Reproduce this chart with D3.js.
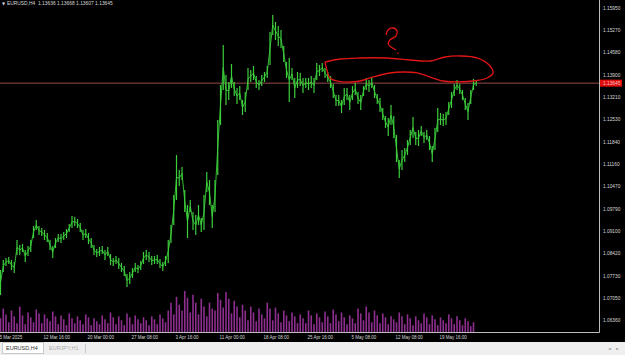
<!DOCTYPE html>
<html><head><meta charset="utf-8">
<script src="https://cdn.jsdelivr.net/npm/d3@7"></script>
<style>html,body{margin:0;padding:0;background:#000;overflow:hidden}svg{display:block}</style>
</head><body>
<svg id="c" width="625" height="355"></svg>
<script>
// ---- data (EURUSD, H4; one entry = 8h) ----
const highs = [1.07914,1.08221,1.08283,1.08314,1.08221,1.08160,1.08834,1.08681,1.08711,1.08528,
1.08650,1.08834,1.09264,1.09448,1.09264,1.09203,1.09141,1.09049,1.08834,1.08650,
1.08895,1.09018,1.09018,1.09080,1.09172,1.09325,1.09571,1.09540,1.09479,1.09356,
1.09141,1.09172,1.09049,1.08895,1.08681,1.08558,1.08620,1.08650,1.08528,1.08620,
1.08405,1.08283,1.08344,1.08283,1.08129,1.08037,1.07791,1.07853,1.07976,1.08129,
1.08068,1.08190,1.08467,1.08528,1.08467,1.08344,1.08344,1.08375,1.08252,1.08160,
1.08344,1.08834,1.09295,1.10214,1.11441,1.10981,1.11073,1.10368,1.09908,1.10061,
1.09693,1.09601,1.09908,1.09509,1.10214,1.10920,1.10674,1.09908,1.10674,1.12515,
1.13588,1.14815,1.13895,1.13680,1.14232,1.13680,1.13496,1.13557,1.13128,1.13374,
1.14109,1.14048,1.14171,1.13864,1.13741,1.13895,1.13987,1.14171,1.15214,1.15735,
1.15520,1.15398,1.15275,1.14784,1.14294,1.14416,1.14109,1.13803,1.13987,1.13956,
1.13803,1.13803,1.13803,1.13864,1.13803,1.14263,1.14201,1.14263,1.14109,1.13987,
1.13864,1.13619,1.13282,1.13282,1.13128,1.13496,1.13496,1.13282,1.13557,1.13649,
1.13374,1.13282,1.13557,1.13803,1.13741,1.13833,1.13588,1.13312,1.13190,1.12883,
1.12637,1.12576,1.12975,1.12637,1.12055,1.11288,1.11595,1.11656,1.11901,1.12208,
1.12607,1.12147,1.12208,1.12331,1.12147,1.12208,1.12024,1.11717,1.12269,1.12883,
1.12729,1.12699,1.12760,1.13067,1.13374,1.13619,1.13741,1.13619,1.13435,1.13190,
1.13036,1.13435,1.13772,1.13741];
const lows = [1.07148,1.07853,1.08037,1.08098,1.07914,1.07822,1.08375,1.08375,1.08467,1.08160,
1.08344,1.08467,1.08895,1.09141,1.08988,1.08957,1.08834,1.08773,1.08528,1.08283,
1.08589,1.08773,1.08742,1.08834,1.08895,1.09080,1.09203,1.09264,1.09203,1.09080,
1.08834,1.08895,1.08711,1.08589,1.08375,1.08314,1.08344,1.08405,1.08221,1.08344,
1.08068,1.08037,1.08098,1.07945,1.07853,1.07730,1.07392,1.07485,1.07669,1.07853,
1.07822,1.07914,1.08098,1.08221,1.08160,1.08068,1.08098,1.08098,1.07976,1.07884,
1.08037,1.08129,1.08742,1.09295,1.10061,1.10490,1.10674,1.09693,1.08895,1.09693,
1.09141,1.08988,1.09295,1.09080,1.09141,1.10306,1.09908,1.09203,1.09693,1.10828,
1.12361,1.13435,1.12975,1.13128,1.13496,1.13251,1.13005,1.13128,1.12668,1.12760,
1.13435,1.13680,1.13741,1.13496,1.13435,1.13557,1.13680,1.13803,1.14201,1.15122,
1.14968,1.14784,1.14723,1.14294,1.13803,1.13067,1.13741,1.13190,1.13496,1.13557,
1.13343,1.13496,1.13435,1.13496,1.13343,1.13741,1.13864,1.13987,1.13803,1.13680,
1.13496,1.13190,1.12944,1.12944,1.12729,1.12975,1.13128,1.12821,1.13128,1.13282,
1.13005,1.12821,1.13251,1.13435,1.13374,1.13496,1.13190,1.13005,1.12760,1.12515,
1.12269,1.12024,1.12361,1.11962,1.11227,1.10735,1.10981,1.11227,1.11441,1.11748,
1.11962,1.11748,1.11718,1.12024,1.11809,1.11901,1.11595,1.11227,1.11595,1.12147,
1.12361,1.12331,1.12361,1.12668,1.12883,1.13251,1.13435,1.13312,1.13128,1.12821,
1.12515,1.13005,1.13435,1.13557];
const volumes = [14,24,18,10,22,16,9,26,17,8,20,15,10,23,19,9,18,14,11,21,16,
8,17,13,7,19,14,9,16,12,8,18,15,7,14,11,8,17,13,9,20,15,
8,16,12,7,19,15,8,17,13,9,15,12,7,16,13,8,18,14,10,22,
30,18,36,28,22,42,35,20,38,30,18,34,26,16,30,24,22,40,33,25,41,34,19,32,26,15,28,
22,12,26,20,11,24,18,14,30,24,12,25,19,10,22,17,11,20,16,9,
18,14,9,22,17,8,19,15,10,21,16,9,23,18,11,20,15,8,17,14,9,24,19,12,26,20,10,22,17,9,19,15,8,16,13,10,
20,16,8,18,14,7,16,12,9,19,15,8,17,13,7,15,12,9,18,14,8,16,12,7,14,11,6,10];
const priceTicks = [1.15950,1.15270,1.14580,1.13900,1.13210,1.12530,1.11840,1.11160,1.10470,1.09790,1.09100,1.08420,1.07730,1.07050,1.06360];
const timeTickIdx = [0,16,32,48,64,80,96,112,128,144,160];
const timeTickLabels = ["5 Mar 2025","12 Mar 16:00","20 Mar 00:00","27 Mar 08:00","3 Apr 16:00","11 Apr 00:00","18 Apr 08:00","25 Apr 16:00","5 May 08:00","12 May 08:00","19 May 16:00"];
const lastPrice = 1.13645;
const header = "EURUSD,H4  1.13636 1.13668 1.13607 1.13645";
// hand-drawn annotation, in (bar index, price)
const loopIdx = [118.0,123.5,130.7,140.5,148.9,156.2,161.6,167.1,173.3,178.0,179.1,176.9,171.8,160.9,157.3,151.5,146.4,141.6,135.5,130.7,127.1,122.4,119.8,118.7,118.0];
const loopPrice = [1.14294,1.14386,1.14417,1.14417,1.14355,1.14325,1.14447,1.14478,1.14417,1.14171,1.13957,1.13803,1.13711,1.13711,1.13803,1.13957,1.13987,1.13957,1.13834,1.13711,1.13680,1.13711,1.13803,1.14049,1.14294];
const qIdx = [140.2,140.9,142.7,144.2,143.8,141.6,141.0,142.0,143.8];
const qPrice = [1.15122,1.15275,1.15337,1.15245,1.15091,1.14969,1.14846,1.14754,1.14662];
const qDot = [144.5,1.14560];

// ---- scales ----
const svg = d3.select("#c");
const W = 625, H = 355, axisX = 599, axisY = 332;
const x = d3.scaleLinear().domain([0, highs.length - 1]).range([0.5, 476.25]);
const y = d3.scaleLinear().domain([1.06360, 1.15950]).range([320.7, 8]);
const v = d3.scaleLinear().domain([0, 45]).range([axisY, axisY - 44]);
const font = "'Liberation Sans', Arial, sans-serif";
const green = "#3ccf3c";

svg.append("rect").attr("width", W).attr("height", H).attr("fill", "#000");

// volumes
svg.append("g").selectAll("line").data(volumes).join("line")
  .attr("x1", (d,i)=>x(i)).attr("x2", (d,i)=>x(i))
  .attr("y1", axisY).attr("y2", d=>v(d))
  .attr("stroke", "#8e2e8e").attr("stroke-width", 1.6);

// current price line
svg.append("line").attr("x1", 0).attr("x2", axisX).attr("y1", y(lastPrice)).attr("y2", y(lastPrice))
  .attr("stroke", "#9a4a4a").attr("stroke-width", 1);

// price bars: high-low range per entry, joined by a thin connector
const mids = highs.map((h,i)=>(h + lows[i]) / 2);
svg.append("path").attr("d", d3.line()(mids.map((m,i)=>[x(i), y(m)])))
  .attr("fill", "none").attr("stroke", green).attr("stroke-width", 0.9);
svg.append("g").selectAll("line").data(highs).join("line")
  .attr("x1", (d,i)=>x(i)).attr("x2", (d,i)=>x(i))
  .attr("y1", d=>y(d)).attr("y2", (d,i)=>y(lows[i]))
  .attr("stroke", green).attr("stroke-width", 1.2);

// annotation
const ln = d3.line().curve(d3.curveCatmullRom);
svg.append("path").attr("d", ln(loopIdx.map((d,i)=>[x(d), y(loopPrice[i])])))
  .attr("fill", "none").attr("stroke", "#e01515").attr("stroke-width", 1.3);
svg.append("path").attr("d", ln(qIdx.map((d,i)=>[x(d), y(qPrice[i])])))
  .attr("fill", "none").attr("stroke", "#e01515").attr("stroke-width", 1.3);
svg.append("circle").attr("cx", x(qDot[0])).attr("cy", y(qDot[1])).attr("r", 0.8).attr("fill", "#e01515");

// frame
svg.append("line").attr("x1", axisX + 0.5).attr("x2", axisX + 0.5).attr("y1", 0).attr("y2", axisY + 0.5)
  .attr("stroke", "#bdbdbd").attr("stroke-width", 1);
svg.append("line").attr("x1", 0).attr("x2", axisX + 0.5).attr("y1", axisY + 0.5).attr("y2", axisY + 0.5)
  .attr("stroke", "#bdbdbd").attr("stroke-width", 1);

// price axis labels
svg.append("g").selectAll("text").data(priceTicks).join("text")
  .attr("x", 603).attr("y", d=>y(d)).attr("dy", "0.35em")
  .attr("fill", "#d8d8d8").attr("font-family", font).attr("font-size", 4.8)
  .text(d=>d.toFixed(5));

// current price label
svg.append("rect").attr("x", 600).attr("y", y(lastPrice) - 3.5).attr("width", 22).attr("height", 7).attr("fill", "#e00d0d");
svg.append("text").attr("x", 603).attr("y", y(lastPrice)).attr("dy", "0.35em")
  .attr("fill", "#f4c0c0").attr("font-family", font).attr("font-size", 4.8).text(lastPrice.toFixed(5));

// time axis labels
svg.append("g").selectAll("text").data(timeTickIdx).join("text")
  .attr("x", d=>x(d) - 1).attr("y", 337).attr("dy", "0.35em")
  .attr("fill", "#d8d8d8").attr("font-family", font).attr("font-size", 4.5)
  .text((d,i)=>timeTickLabels[i]);

// header
svg.append("text").attr("x", 2).attr("y", 3.5).attr("dy", "0.35em").attr("fill", "#d8d8d8")
  .attr("font-family", "'DejaVu Sans', sans-serif").attr("font-size", 4).text("▼");
svg.append("text").attr("x", 7).attr("y", 3.5).attr("dy", "0.35em").attr("fill", "#d8d8d8")
  .attr("font-family", font).attr("font-size", 4.9).attr("xml:space", "preserve").text(header);

// bottom tab bar
svg.append("rect").attr("x", 0).attr("y", 342).attr("width", W).attr("height", 13).attr("fill", "#efefef");
svg.append("rect").attr("x", 2.5).attr("y", 342.5).attr("width", 41).attr("height", 11).attr("fill", "#fff").attr("stroke", "#c9c9c9");
svg.append("text").attr("x", 6).attr("y", 348.3).attr("dy", "0.35em").attr("fill", "#333")
  .attr("font-family", font).attr("font-size", 5.5).text("EURUSD,H4");
svg.append("text").attr("x", 49).attr("y", 348.3).attr("dy", "0.35em").attr("fill", "#aaa")
  .attr("font-family", font).attr("font-size", 5.5).text("EURJPY,H1");
svg.append("line").attr("x1", 85.5).attr("x2", 85.5).attr("y1", 344).attr("y2", 353).attr("stroke", "#c9c9c9");
svg.append("text").attr("x", 608).attr("y", 349).attr("dy", "0.35em").attr("fill", "#9a9a9a")
  .attr("font-family", "'DejaVu Sans', sans-serif").attr("font-size", 4).text("◄");
svg.append("text").attr("x", 616).attr("y", 349).attr("dy", "0.35em").attr("fill", "#9a9a9a")
  .attr("font-family", "'DejaVu Sans', sans-serif").attr("font-size", 4).text("►");
</script>
</body></html>
